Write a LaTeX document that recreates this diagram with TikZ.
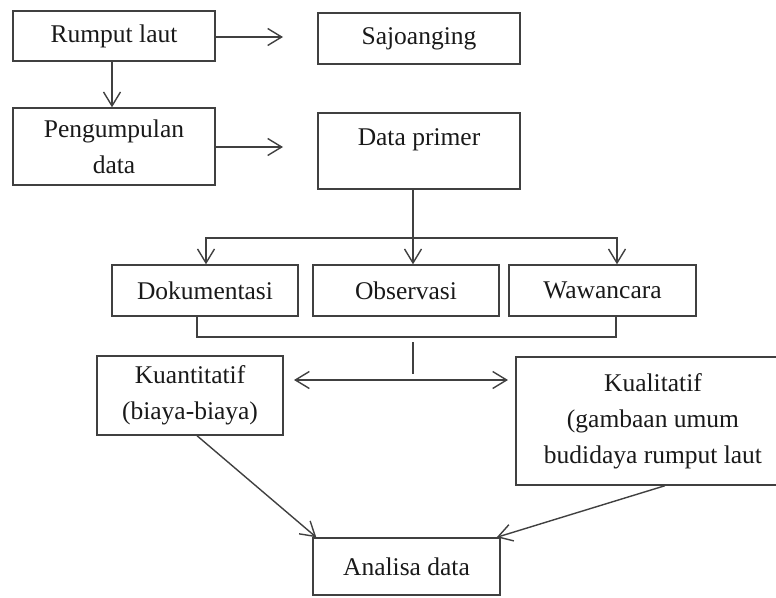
\documentclass[tikz,border=0pt]{standalone}
\usepackage{fontspec}
\setmainfont{Liberation Serif}
\usetikzlibrary{arrows.meta}
\newcommand\myfs{\fontsize{25.5}{36}\selectfont}
\tikzset{
  box/.style={draw=black!75, line width=1.4pt, inner sep=0pt, font=\myfs, text=black!90, align=center},
  txt/.style={inner sep=0pt, font=\myfs, text=black!90, align=center},
  ln/.style={draw=black!75, line width=1.4pt},
  tip/.style={Straight Barb[length=14pt,width=17pt,line width=1.4pt]},
  arr/.style={ln, -{Straight Barb[length=14pt,width=17pt,line width=1.4pt]}},
  darr/.style={ln, {Straight Barb[length=14pt,width=17pt,line width=1.4pt]}-{Straight Barb[length=14pt,width=17pt,line width=1.4pt]}}
}
\begin{document}
\begin{tikzpicture}[x=1pt,y=-1pt]
\useasboundingbox (0,0) rectangle (776,597);
% boxes
\node[box, minimum width=202pt, minimum height=50pt] (rl) at (114,36) {Rumput laut};
\node[box, minimum width=202pt, minimum height=51pt] (sj) at (419,38.5) {Sajoanging};
\node[box, minimum width=202pt, minimum height=77pt] (pd) at (114,146.5) {Pengumpulan\\data};
\node[box, minimum width=202pt, minimum height=76pt] (dp) at (419,151) {};
\node[txt] (dpt) at (419,140) {Data primer};
\node[box, minimum width=186pt, minimum height=51pt] (dok) at (205,290.5) {Dokumentasi};
\node[box, minimum width=186pt, minimum height=51pt] (obs) at (406,290.5) {Observasi};
\node[box, minimum width=187pt, minimum height=51pt] (waw) at (602.5,290.5) {Wawancara};
\node[box, minimum width=186pt, minimum height=79pt] (kuan) at (190,395.5) {Kuantitatif\\(biaya-biaya)};
\node[box, minimum width=274pt, minimum height=128pt] (kual) at (653,421) {Kualitatif\\(gambaan umum\\budidaya rumput laut};
\node[box, minimum width=187pt, minimum height=57pt] (ana) at (406.5,566.5) {Analisa data};
% free ends
\coordinate (a1) at (283,37);
\coordinate (a2) at (283,147);
\coordinate (br) at (413,238);
\coordinate (bl) at (197,337);
\coordinate (brr) at (616,337);
\coordinate (v1) at (413,342);
\coordinate (v2) at (413,374);
\coordinate (d1) at (294,380);
\coordinate (d2) at (508,380);
% connectors
\draw[arr] (rl.east |- a1) -- (a1);
\draw[arr] (rl.south -| 112,0) -- (pd.north -| 112,0);
\draw[arr] (pd.east |- a2) -- (a2);
\draw[ln] (dp.south -| br) -- (br);
\draw[arr] (br) -- (obs.north -| br);
\draw[arr] (br) -| ([xshift=1pt]dok.north);
\draw[arr] (br) -| ([xshift=14.5pt]waw.north);
\draw[ln] (dok.south -| bl) -- (bl) -- (brr) -- (waw.south -| brr);
\draw[ln] (v1) -- (v2);
\draw[darr] (d1) -- (d2);
\draw[arr] ([xshift=7pt]kuan.south) -- ([xshift=4pt]ana.north west);
\draw[arr] ([xshift=12pt]kual.south) -- ([xshift=-4pt]ana.north east);
\end{tikzpicture}
\end{document}
